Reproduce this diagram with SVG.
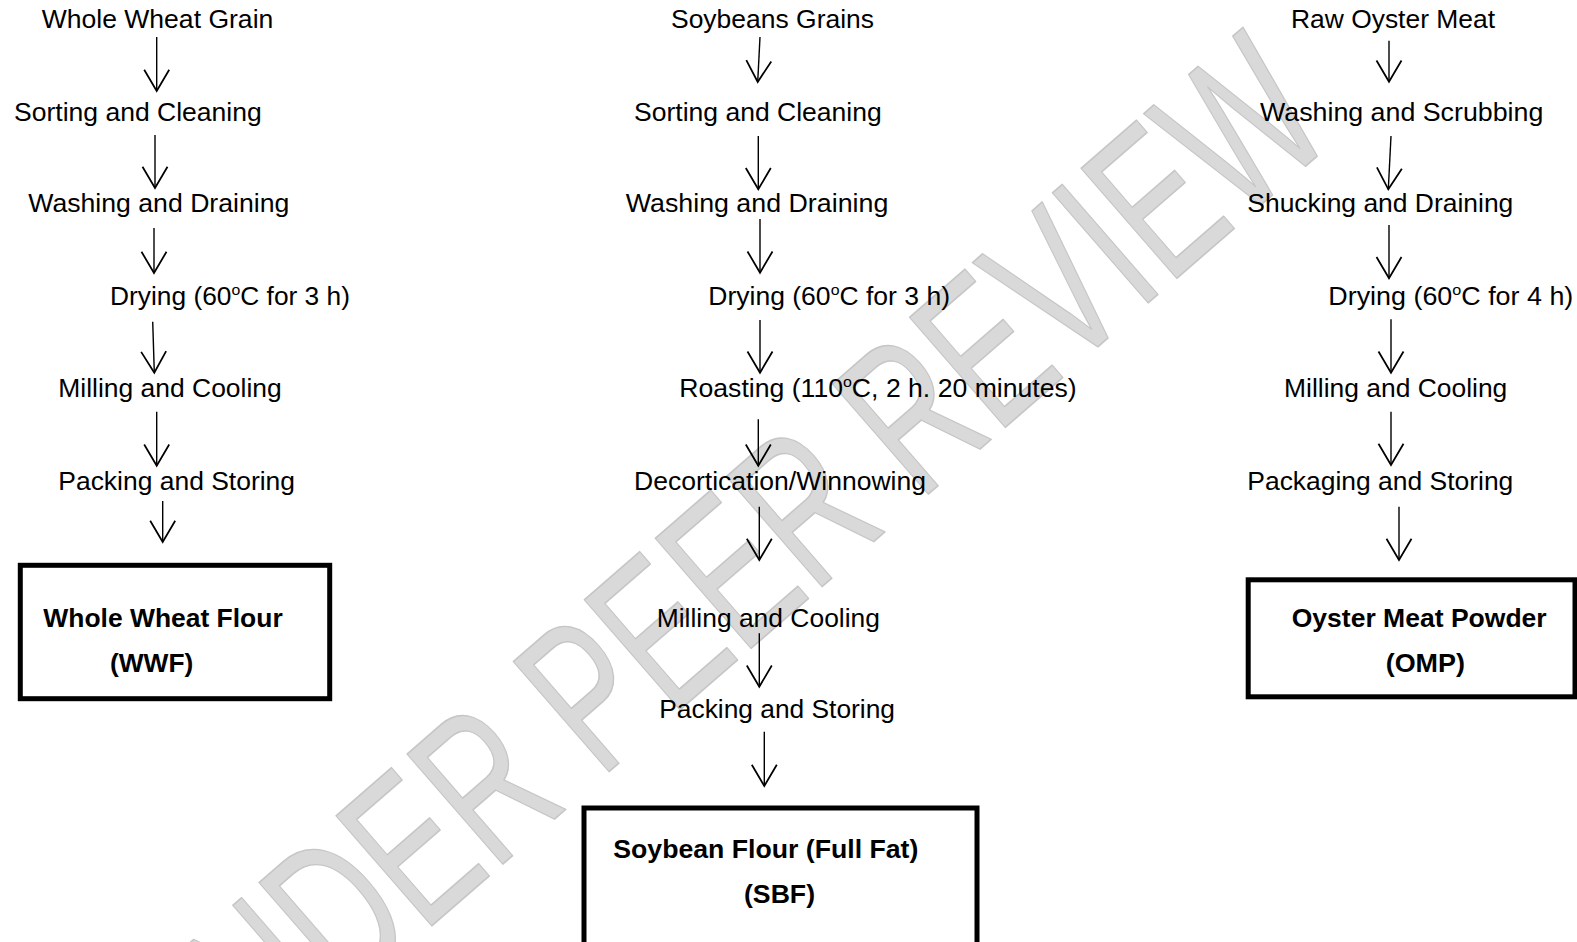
<svg xmlns="http://www.w3.org/2000/svg" width="1577" height="942" viewBox="0 0 1577 942">
<defs>
<style>
.t{font-family:"Liberation Sans",Arial,Helvetica,sans-serif;font-size:25px;fill:#000}
.b{font-family:"Liberation Sans",Arial,Helvetica,sans-serif;font-size:25px;font-weight:bold;fill:#000}
.sup{font-size:15px}
.a{stroke:#000;stroke-width:1.4;fill:none;marker-end:url(#arr)}
.box{fill:none;stroke:#000;stroke-width:5}
.wm{font-family:"Liberation Sans",Arial,sans-serif;font-size:212px;font-weight:normal;fill:#d9d9d9;stroke:#c6c6c6;stroke-width:1.6;stroke-linejoin:round}
</style>
<marker id="arr" markerUnits="userSpaceOnUse" markerWidth="30" markerHeight="30" viewBox="-20 -12 24 24" refX="0" refY="0" orient="auto" overflow="visible">
<path d="M-17,-10 L0,0 L-17,10" fill="none" stroke="#000" stroke-width="1.4"/>
</marker>
</defs>
<rect width="1577" height="942" fill="#fff"/>
<g id="watermark" transform="translate(716,578) rotate(-41)">
<text class="wm" transform="scale(0.665,1)" x="0" y="76" text-anchor="middle">UNDER PEER REVIEW</text>
</g>
<g id="connectors">
<line class="a" x1="156.7" y1="37" x2="156.7" y2="91"/>
<line class="a" x1="155" y1="135" x2="155" y2="188"/>
<line class="a" x1="154" y1="228" x2="154" y2="273"/>
<line class="a" x1="152.7" y1="321.7" x2="154.3" y2="372.7"/>
<line class="a" x1="156.7" y1="411.7" x2="156.7" y2="465.7"/>
<line class="a" x1="162.7" y1="501" x2="162.7" y2="542"/>
<line class="a" x1="760" y1="37" x2="757.7" y2="82"/>
<line class="a" x1="758.3" y1="136" x2="758.3" y2="189.3"/>
<line class="a" x1="760" y1="219" x2="760" y2="272.7"/>
<line class="a" x1="760" y1="320" x2="760" y2="372.7"/>
<line class="a" x1="758.3" y1="419.3" x2="758.3" y2="465.7"/>
<line class="a" x1="759.3" y1="506.7" x2="759.3" y2="560"/>
<line class="a" x1="759.3" y1="633.3" x2="759.3" y2="686.7"/>
<line class="a" x1="764.3" y1="731.7" x2="764.3" y2="786"/>
<line class="a" x1="1389" y1="40.7" x2="1389" y2="81.7"/>
<line class="a" x1="1391" y1="136" x2="1388.3" y2="189.3"/>
<line class="a" x1="1389" y1="225" x2="1389" y2="278.3"/>
<line class="a" x1="1391" y1="319.3" x2="1391" y2="372.7"/>
<line class="a" x1="1391" y1="411.7" x2="1391" y2="465"/>
<line class="a" x1="1399" y1="506.7" x2="1399" y2="560"/>
</g>
<g id="wheat">
<g id="w1"><text class="t" x="41.7" y="28.3" textLength="231.6" lengthAdjust="spacingAndGlyphs">Whole Wheat Grain</text></g>
<g id="w2"><text class="t" x="14" y="120.7" textLength="247.7" lengthAdjust="spacingAndGlyphs">Sorting and Cleaning</text></g>
<g id="w3"><text class="t" x="28.3" y="212.3" textLength="261" lengthAdjust="spacingAndGlyphs">Washing and Draining</text></g>
<g id="w4"><text class="t" x="110" y="305" textLength="240" lengthAdjust="spacingAndGlyphs">Drying (60<tspan class="sup" dy="-10">o</tspan><tspan dy="10">C for 3 h)</tspan></text></g>
<g id="w5"><text class="t" x="58.3" y="397" textLength="223.4" lengthAdjust="spacingAndGlyphs">Milling and Cooling</text></g>
<g id="w6"><text class="t" x="58.3" y="490" textLength="236.7" lengthAdjust="spacingAndGlyphs">Packing and Storing</text></g>
<g id="w7"><rect class="box" x="20.3" y="565.3" width="309.4" height="133.4"/>
<text class="b" x="43.3" y="626.7" textLength="239.4" lengthAdjust="spacingAndGlyphs">Whole Wheat Flour</text>
<text class="b" x="110" y="671.7" textLength="83.3" lengthAdjust="spacingAndGlyphs">(WWF)</text></g>
</g>
<g id="soy">
<g id="s1"><text class="t" x="671" y="28.3" textLength="203" lengthAdjust="spacingAndGlyphs">Soybeans Grains</text></g>
<g id="s2"><text class="t" x="634" y="120.7" textLength="247.7" lengthAdjust="spacingAndGlyphs">Sorting and Cleaning</text></g>
<g id="s3"><text class="t" x="625.7" y="212.3" textLength="262.6" lengthAdjust="spacingAndGlyphs">Washing and Draining</text></g>
<g id="s4"><text class="t" x="708.3" y="305" textLength="241.7" lengthAdjust="spacingAndGlyphs">Drying (60<tspan class="sup" dy="-10">o</tspan><tspan dy="10">C for 3 h)</tspan></text></g>
<g id="s5"><text class="t" x="679.3" y="397.3" textLength="397.4" lengthAdjust="spacingAndGlyphs">Roasting (110<tspan class="sup" dy="-10">o</tspan><tspan dy="10">C, 2 h. 20 minutes)</tspan></text></g>
<g id="s6"><text class="t" x="634" y="490" textLength="292" lengthAdjust="spacingAndGlyphs">Decortication/Winnowing</text></g>
<g id="s7"><text class="t" x="656.7" y="626.7" textLength="223.3" lengthAdjust="spacingAndGlyphs">Milling and Cooling</text></g>
<g id="s8"><text class="t" x="659.3" y="717.5" textLength="235.7" lengthAdjust="spacingAndGlyphs">Packing and Storing</text></g>
<g id="s9"><rect class="box" x="584" y="808" width="393" height="145"/>
<text class="b" x="613.3" y="857.5" textLength="305" lengthAdjust="spacingAndGlyphs">Soybean Flour (Full Fat)</text>
<text class="b" x="744" y="903" textLength="71" lengthAdjust="spacingAndGlyphs">(SBF)</text></g>
</g>
<g id="oyster">
<g id="o1"><text class="t" x="1291" y="28.3" textLength="204" lengthAdjust="spacingAndGlyphs">Raw Oyster Meat</text></g>
<g id="o2"><text class="t" x="1260" y="120.7" textLength="283.3" lengthAdjust="spacingAndGlyphs">Washing and Scrubbing</text></g>
<g id="o3"><text class="t" x="1247.3" y="212.3" textLength="266" lengthAdjust="spacingAndGlyphs">Shucking and Draining</text></g>
<g id="o4"><text class="t" x="1328.3" y="305" textLength="245" lengthAdjust="spacingAndGlyphs">Drying (60<tspan class="sup" dy="-10">o</tspan><tspan dy="10">C for 4 h)</tspan></text></g>
<g id="o5"><text class="t" x="1284" y="397.3" textLength="223.3" lengthAdjust="spacingAndGlyphs">Milling and Cooling</text></g>
<g id="o6"><text class="t" x="1247.3" y="490" textLength="266" lengthAdjust="spacingAndGlyphs">Packaging and Storing</text></g>
<g id="o7"><rect class="box" x="1248.2" y="579.8" width="326.8" height="117"/>
<text class="b" x="1291.7" y="626.7" textLength="255" lengthAdjust="spacingAndGlyphs">Oyster Meat Powder</text>
<text class="b" x="1385.7" y="671.7" textLength="79.3" lengthAdjust="spacingAndGlyphs">(OMP)</text></g>
</g>
</svg>
